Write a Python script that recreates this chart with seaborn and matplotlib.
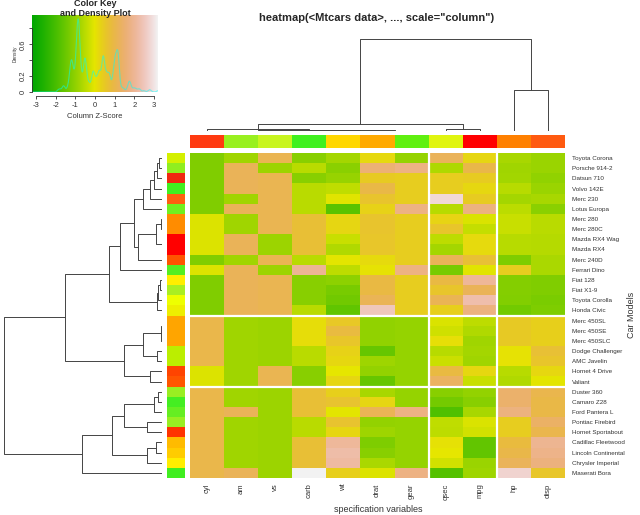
import numpy as np
import pandas as pd
import matplotlib
matplotlib.use("Agg")
import matplotlib.pyplot as plt
from matplotlib.colors import ListedColormap, hsv_to_rgb
import seaborn as sns

sns.set_style("white")
plt.rcParams['font.family'] = ['Liberation Sans', 'DejaVu Sans']
plt.rcParams['axes.unicode_minus'] = False

# mtcars, R row order
cars = ["Mazda RX4", "Mazda RX4 Wag", "Datsun 710", "Hornet 4 Drive", "Hornet Sportabout",
        "Valiant", "Duster 360", "Merc 240D", "Merc 230", "Merc 280", "Merc 280C",
        "Merc 450SE", "Merc 450SL", "Merc 450SLC", "Cadillac Fleetwood", "Lincoln Continental",
        "Chrysler Imperial", "Fiat 128", "Honda Civic", "Toyota Corolla", "Toyota Corona",
        "Dodge Challenger", "AMC Javelin", "Camaro Z28", "Pontiac Firebird", "Fiat X1-9",
        "Porsche 914-2", "Lotus Europa", "Ford Pantera L", "Ferrari Dino", "Maserati Bora",
        "Volvo 142E"]
mpg = [21.0, 21.0, 22.8, 21.4, 18.7, 18.1, 14.3, 24.4, 22.8, 19.2, 17.8, 16.4, 17.3, 15.2, 10.4, 10.4,
       14.7, 32.4, 30.4, 33.9, 21.5, 15.5, 15.2, 13.3, 19.2, 27.3, 26.0, 30.4, 15.8, 19.7, 15.0, 21.4]
cyl = [6, 6, 4, 6, 8, 6, 8, 4, 4, 6, 6, 8, 8, 8, 8, 8, 8, 4, 4, 4, 4, 8, 8, 8, 8, 4, 4, 4, 8, 6, 8, 4]
disp = [160.0, 160.0, 108.0, 258.0, 360.0, 225.0, 360.0, 146.7, 140.8, 167.6, 167.6, 275.8, 275.8, 275.8,
        472.0, 460.0, 440.0, 78.7, 75.7, 71.1, 120.1, 318.0, 304.0, 350.0, 400.0, 79.0, 120.3, 95.1,
        351.0, 145.0, 301.0, 121.0]
hp = [110, 110, 93, 110, 175, 105, 245, 62, 95, 123, 123, 180, 180, 180, 205, 215, 230, 66, 52, 65, 97,
      150, 150, 245, 175, 66, 91, 113, 264, 175, 335, 109]
drat = [3.90, 3.90, 3.85, 3.08, 3.15, 2.76, 3.21, 3.69, 3.92, 3.92, 3.92, 3.07, 3.07, 3.07, 2.93, 3.00,
        3.23, 4.08, 4.93, 4.22, 3.70, 2.76, 3.15, 3.73, 3.08, 4.08, 4.43, 3.77, 4.22, 3.62, 3.54, 4.11]
wt = [2.620, 2.875, 2.320, 3.215, 3.440, 3.460, 3.570, 3.190, 3.150, 3.440, 3.440, 4.070, 3.730, 3.780,
      5.250, 5.424, 5.345, 2.200, 1.615, 1.835, 2.465, 3.520, 3.435, 3.840, 3.845, 1.935, 2.140, 1.513,
      3.170, 2.770, 3.570, 2.780]
qsec = [16.46, 17.02, 18.61, 19.44, 17.02, 20.22, 15.84, 20.00, 22.90, 18.30, 18.90, 17.40, 17.60, 18.00,
        17.98, 17.82, 17.42, 19.47, 18.52, 19.90, 20.01, 16.87, 17.30, 15.41, 17.05, 18.90, 16.70, 16.90,
        14.50, 15.50, 14.60, 18.60]
vs = [0, 0, 1, 1, 0, 1, 0, 1, 1, 1, 1, 0, 0, 0, 0, 0, 0, 1, 1, 1, 1, 0, 0, 0, 0, 1, 0, 1, 0, 0, 0, 1]
am = [1, 1, 1, 0, 0, 0, 0, 0, 0, 0, 0, 0, 0, 0, 0, 0, 0, 1, 1, 1, 0, 0, 0, 0, 0, 1, 1, 1, 1, 1, 1, 1]
gear = [4, 4, 4, 3, 3, 3, 3, 4, 4, 4, 4, 3, 3, 3, 3, 3, 3, 4, 4, 4, 3, 3, 3, 3, 3, 4, 5, 5, 5, 5, 5, 4]
carb = [4, 4, 1, 1, 2, 1, 4, 2, 2, 4, 4, 3, 3, 3, 4, 4, 4, 1, 2, 1, 1, 2, 2, 4, 2, 1, 2, 2, 4, 6, 8, 2]

# order as displayed (top to bottom / left to right)
car_order = ["Toyota Corona", "Porsche 914-2", "Datsun 710", "Volvo 142E", "Merc 230", "Lotus Europa",
             "Merc 280", "Merc 280C", "Mazda RX4 Wag", "Mazda RX4", "Merc 240D", "Ferrari Dino",
             "Fiat 128", "Fiat X1-9", "Toyota Corolla", "Honda Civic", "Merc 450SL", "Merc 450SE",
             "Merc 450SLC", "Dodge Challenger", "AMC Javelin", "Hornet 4 Drive", "Valiant",
             "Duster 360", "Camaro Z28", "Ford Pantera L", "Pontiac Firebird", "Hornet Sportabout",
             "Cadillac Fleetwood", "Lincoln Continental", "Chrysler Imperial", "Maserati Bora"]
var_order = ["cyl", "am", "vs", "carb", "wt", "drat", "gear", "qsec", "mpg", "hp", "disp"]

row_side = ["#d4f000", "#90ee20", "#f02810", "#40f020", "#ff6010", "#70f020", "#ff8c00", "#ff8c00",
            "#ff0000", "#ff0000", "#ff5500", "#55ee22", "#ffee00", "#aaee22", "#eeff00", "#eeee00",
            "#ffa500", "#ffa500", "#ffa500", "#bbee00", "#bbee00", "#ff4400", "#ff5500", "#99ee22",
            "#44ee22", "#66ee22", "#99ee22", "#ff3300", "#ffbb00", "#ffcc00", "#ffee00", "#40ee20"]
col_side = ["#ff3a10", "#99f020", "#c8f520", "#40f020", "#ffd700", "#ffaa00", "#60f010", "#e0f510",
            "#ff0000", "#ff8000", "#ff5a10"]
row_sep = [16, 23]
col_sep = [7, 9]

df = pd.DataFrame({"mpg": mpg, "cyl": cyl, "disp": disp, "hp": hp, "drat": drat, "wt": wt,
                   "qsec": qsec, "vs": vs, "am": am, "gear": gear, "carb": carb}, index=cars)
df = df.loc[car_order, var_order]
z = (df - df.mean()) / df.std()
m = np.abs(z.values).max()


def terrain(n):
    k = n // 2
    h = np.r_[np.linspace(4 / 12, 2 / 12, k), np.linspace(2 / 12, 0, n - k + 1)[1:]]
    s = np.r_[np.ones(k), np.linspace(1, 0, n - k + 1)[1:]]
    v = np.r_[np.linspace(0.65, 0.9, k), np.linspace(0.9, 0.95, n - k + 1)[1:]]
    return ListedColormap(hsv_to_rgb(np.column_stack([h, s, v])))


cmap = terrain(256)


def complete_linkage(X):
    D = np.sqrt(((X[:, None, :] - X[None, :, :]) ** 2).sum(-1))
    n = len(X)
    members = {i: [i] for i in range(n)}
    active = list(range(n))
    merges = []
    nid = n
    while len(active) > 1:
        best = None
        for i in range(len(active)):
            for j in range(i + 1, len(active)):
                a, b = active[i], active[j]
                d = D[np.ix_(members[a], members[b])].max()
                if best is None or d < best[0]:
                    best = (d, a, b)
        d, a, b = best
        members[nid] = members[a] + members[b]
        merges.append((a, b, d))
        active.remove(a)
        active.remove(b)
        active.append(nid)
        nid += 1
    return merges


def draw_tree(ax, merges, n, horizontal):
    pos = {i: i + 0.5 for i in range(n)}
    hgt = {i: 0.0 for i in range(n)}
    for k, (a, b, h) in enumerate(merges):
        p = [pos[a], pos[a], pos[b], pos[b]]
        q = [hgt[a], h, h, hgt[b]]
        if horizontal:
            ax.plot(q, p, color="#444444", lw=0.7)
        else:
            ax.plot(p, q, color="#444444", lw=0.7)
        pos[n + k] = (pos[a] + pos[b]) / 2
        hgt[n + k] = h
    return max(hgt.values())


fig = plt.figure(figsize=(6.4, 5.15), dpi=100)


def px_axes(x0, y0, x1, y1):
    return fig.add_axes([x0 / 640, 1 - y1 / 515, (x1 - x0) / 640, (y1 - y0) / 515])


# main heatmap
ax = px_axes(190, 153, 565, 478)
sns.heatmap(z, cmap=cmap, vmin=-m, vmax=m, cbar=False, ax=ax,
            xticklabels=var_order, yticklabels=car_order)
for r in row_sep:
    ax.axhline(r, color="white", lw=1.6)
for c in col_sep:
    ax.axvline(c, color="white", lw=1.6)
ax.yaxis.tick_right()
ax.tick_params(axis="y", length=0, pad=5, labelsize=4.5, labelcolor="#333333", rotation=0)
ax.tick_params(axis="x", length=0, pad=4, labelsize=5.5, labelcolor="#333333", rotation=90)
ax.set_xlabel("")
ax.set_ylabel("")
fig.text(378 / 640, 1 - 510 / 515, "specification variables", ha="center", va="center",
         fontsize=6.5, color="#333333")
fig.text(632 / 640, 1 - 315 / 515, "Car Models", ha="center", va="center", rotation=90,
         fontsize=6.5, color="#333333")

# side colours
ax_rs = px_axes(167, 153, 185, 478)
sns.heatmap(np.arange(len(car_order))[:, None], cmap=ListedColormap(row_side), cbar=False,
            ax=ax_rs, xticklabels=False, yticklabels=False)
ax_cs = px_axes(190, 135, 565, 148)
sns.heatmap(np.arange(len(var_order))[None, :], cmap=ListedColormap(col_side), cbar=False,
            ax=ax_cs, xticklabels=False, yticklabels=False)

# dendrograms
ax_rd = px_axes(4, 153, 162, 478)
H = draw_tree(ax_rd, complete_linkage(df.values.astype(float)), len(car_order), True)
ax_rd.set_xlim(H, 0)
ax_rd.set_ylim(len(car_order), 0)
ax_rd.axis("off")

ax_cd = px_axes(190, 39, 565, 131)
H = draw_tree(ax_cd, complete_linkage(df.values.T.astype(float)), len(var_order), False)
ax_cd.set_xlim(0, len(var_order))
ax_cd.set_ylim(0, H)
ax_cd.axis("off")

# colour key with density
vals = z.values.ravel()
n = len(vals)
iqr = np.subtract(*np.percentile(vals, [75, 25]))
bw = 0.9 * min(vals.std(ddof=1), iqr / 1.34) * n ** -0.2 * 0.25
gx = np.linspace(-m, m, 512)
dens = np.exp(-0.5 * ((gx[:, None] - vals[None, :]) / bw) ** 2).sum(1) / (n * bw * np.sqrt(2 * np.pi))

ax_k = px_axes(32, 15, 158, 92)
ax_k.imshow(np.linspace(-m, m, 256)[None, :], extent=[-m, m, 0, 1], aspect="auto", cmap=cmap,
            vmin=-m, vmax=m)
ax_k.plot(gx, dens / dens.max() * 0.95, color="cyan", lw=0.8, alpha=0.5)
ax_k.set_xlim(-m, m)
ax_k.set_ylim(0, 1)
ax_k.set_xticks([-3, -2, -1, 0, 1, 2, 3])
yt = np.array([0, 0.2, 0.4, 0.6, 0.8])
ax_k.set_yticks(yt / dens.max() * 0.95)
ax_k.set_yticklabels(["0", "0.2", "", "0.6", ""], rotation=90, va="center")
ax_k.tick_params(axis="both", length=2.5, width=0.6, labelsize=5.5, labelcolor="#333333",
                 color="#333333", pad=1.5, bottom=True, left=True)
for side in ["top", "right"]:
    ax_k.spines[side].set_visible(False)
ax_k.spines["bottom"].set_bounds(-3, 3)
ax_k.spines["bottom"].set_position(("outward", 3))
ax_k.spines["left"].set_bounds(0, 0.8 / dens.max() * 0.95)
for side in ["bottom", "left"]:
    ax_k.spines[side].set_linewidth(0.6)
    ax_k.spines[side].set_color("#333333")
ax_k.set_ylabel("Density", fontsize=3.5, labelpad=1, color="#333333")
fig.text(95 / 640, 1 - 116 / 515, "Column Z-Score", ha="center", va="center", fontsize=5.5,
         color="#333333")
fig.text(95 / 640, 1 - 4 / 515, "Color Key", ha="center", va="center", fontsize=6.5,
         fontweight="bold")
fig.text(95 / 640, 1 - 13 / 515, "and Density Plot", ha="center", va="center", fontsize=6.5,
         fontweight="bold")

fig.text(377 / 640, 1 - 18 / 515, 'heatmap(<Mtcars data>, ..., scale="column")', ha="center",
         va="center", fontsize=8, fontweight="bold")

fig.savefig("out.png", dpi=100)
